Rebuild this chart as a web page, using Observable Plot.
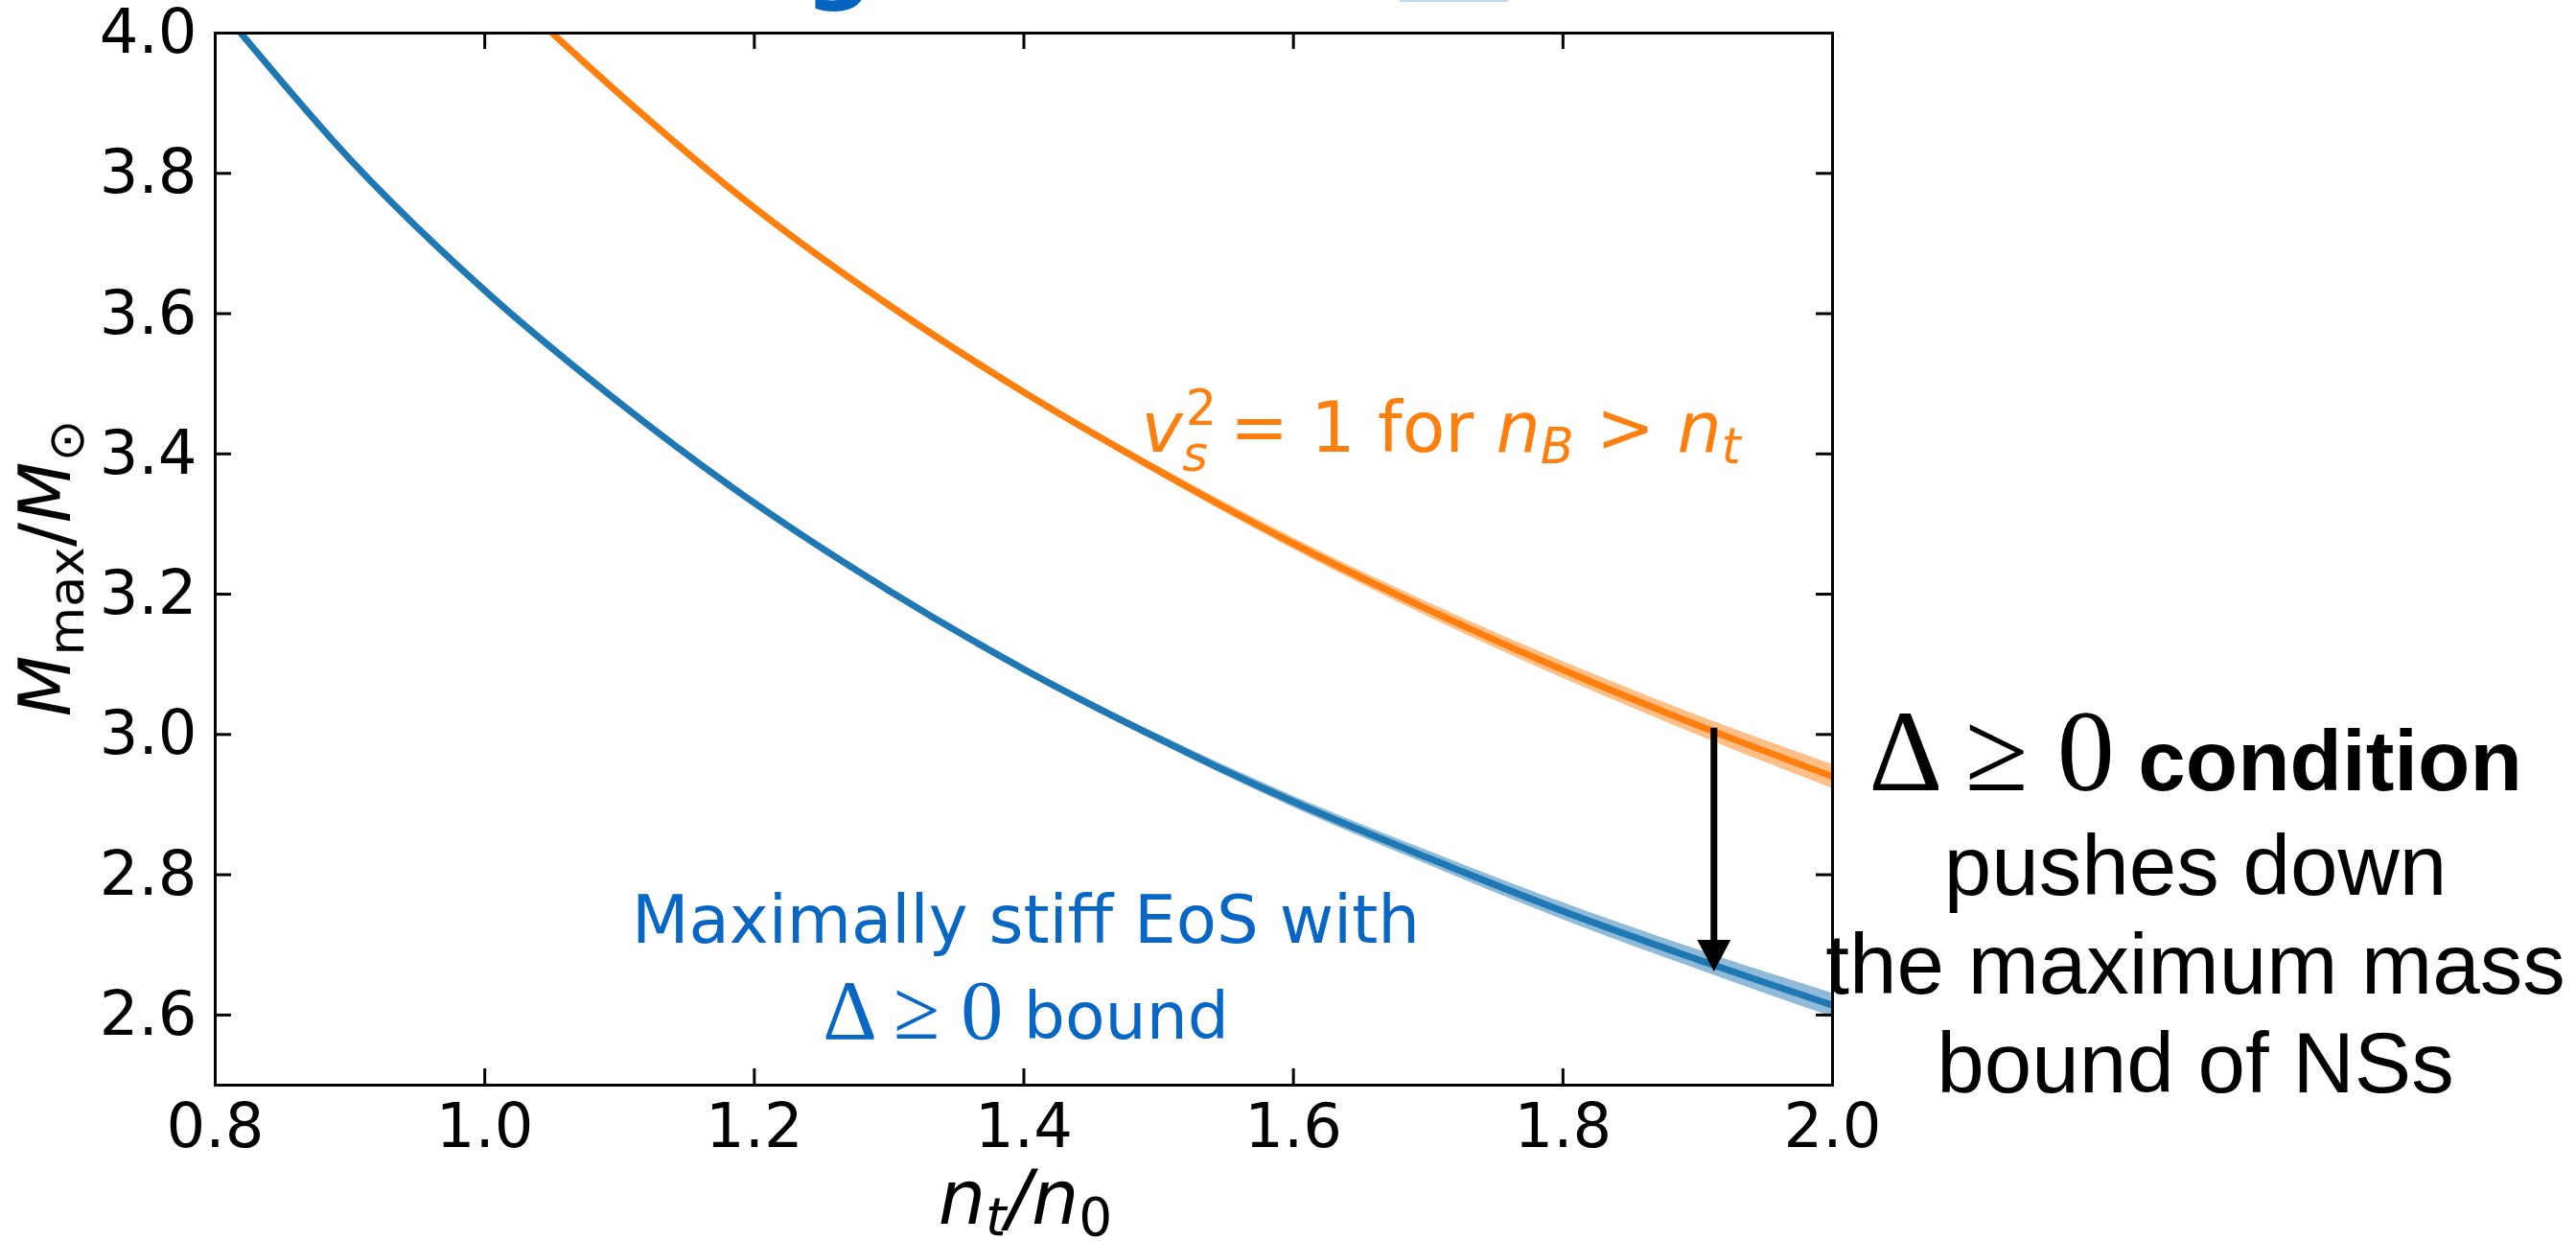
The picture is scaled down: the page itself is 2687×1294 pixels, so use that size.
<!DOCTYPE html>
<html><head><meta charset="utf-8">
<script src="https://cdn.jsdelivr.net/npm/d3@7"></script>
<script src="https://cdn.jsdelivr.net/npm/@observablehq/plot@0.6"></script>
<style>
html,body{margin:0;padding:0;background:#fff;}
#chart{position:relative;width:2687px;height:1294px;overflow:hidden;background:#fff;}
</style></head><body><div id="chart"></div>
<script>
// ---- data ----
const blueX = [0.819, 0.900, 1.000, 1.100, 1.200, 1.300, 1.400, 1.500, 1.600, 1.700, 1.800, 1.900, 2.000];
const blueY = [4.000, 3.820, 3.633, 3.473, 3.330, 3.205, 3.093, 2.994, 2.904, 2.824, 2.748, 2.679, 2.614];
const orangeX = [1.050, 1.100, 1.200, 1.300, 1.400, 1.500, 1.600, 1.700, 1.800, 1.900, 2.000];
const orangeY = [4.000, 3.913, 3.751, 3.612, 3.488, 3.376, 3.272, 3.178, 3.092, 3.013, 2.940];
const bandX    = [1.2,   1.3,   1.4,   1.5,   1.6,   1.7,   1.8,   1.9,   2.0];
const blueLo   = [3.328, 3.202, 3.089, 2.988, 2.896, 2.814, 2.736, 2.665, 2.597];
const blueHi   = [3.332, 3.208, 3.097, 3.000, 2.912, 2.834, 2.760, 2.693, 2.631];
const orangeLo = [3.749, 3.609, 3.484, 3.370, 3.264, 3.168, 3.080, 2.999, 2.923];
const orangeHi = [3.753, 3.615, 3.492, 3.382, 3.280, 3.188, 3.104, 3.027, 2.957];
const xTicks = [0.8, 1.0, 1.2, 1.4, 1.6, 1.8, 2.0];
const yTicks = [2.6, 2.8, 3.0, 3.2, 3.4, 3.6, 3.8, 4.0];
const arrowX = [1.912];
const arrowFrom = [3.009];
const arrowTo = [2.662];

const BLUE = "#1f77b4", ORANGE = "#ff7f0e", TEXTBLUE = "#0866c4";

const blueLine = blueX.map((x, i) => ({x, y: blueY[i]}));
const orangeLine = orangeX.map((x, i) => ({x, y: orangeY[i]}));
const blueBand = bandX.map((x, i) => ({x, lo: blueLo[i], hi: blueHi[i]}));
const orangeBand = bandX.map((x, i) => ({x, lo: orangeLo[i], hi: orangeHi[i]}));
const arrow = arrowX.map((x, i) => ({x, y1: arrowFrom[i], y2: arrowTo[i]}));

const W = 2687, H = 1294, ML = 224, MR = 776, MT = 34, MB = 163;
const FW = W - ML - MR, FH = H - MT - MB, TL = 17;

const downTriangle = {
  draw(ctx, size) {
    const r = Math.sqrt(size / Math.PI);
    const w = 1.25 * r, h = 2.36 * r;
    ctx.moveTo(0, 0); ctx.lineTo(-w, -h); ctx.lineTo(w, -h); ctx.closePath();
  }
};

const plot = Plot.plot({
  width: W, height: H,
  marginLeft: ML, marginRight: MR, marginTop: MT, marginBottom: MB,
  style: {fontFamily: "DejaVu Sans", fontSize: "64px", background: "#fff", color: "#000", overflow: "visible"},
  x: {domain: [0.8, 2.0]},
  y: {domain: [2.5, 4.0]},
  marks: [
    Plot.areaY(blueBand, {x: "x", y1: "lo", y2: "hi", fill: BLUE, fillOpacity: 0.5, curve: "monotone-x", clip: true}),
    Plot.areaY(orangeBand, {x: "x", y1: "lo", y2: "hi", fill: ORANGE, fillOpacity: 0.5, curve: "monotone-x", clip: true}),
    Plot.line(blueLine, {x: "x", y: "y", stroke: BLUE, strokeWidth: 7, curve: "monotone-x", clip: true}),
    Plot.line(orangeLine, {x: "x", y: "y", stroke: ORANGE, strokeWidth: 7, curve: "monotone-x", clip: true}),
    Plot.ruleX(arrow, {x: "x", y1: "y1", y2: "y2", stroke: "#000", strokeWidth: 7, insetBottom: 28}),
    Plot.dot(arrow, {x: "x", y: "y2", symbol: downTriangle, r: 14, fill: "#000", stroke: "none"}),
    Plot.tickX(xTicks, {insetTop: FH - TL, stroke: "#000", strokeWidth: 3}),
    Plot.tickX(xTicks, {insetBottom: FH - TL, stroke: "#000", strokeWidth: 3}),
    Plot.tickY(yTicks, {insetRight: FW - TL, stroke: "#000", strokeWidth: 3}),
    Plot.tickY(yTicks, {insetLeft: FW - TL, stroke: "#000", strokeWidth: 3}),
    Plot.axisX({ticks: xTicks, tickSize: 0, tickPadding: 19, tickFormat: d3.format(".1f"), label: null, fontSize: 64}),
    Plot.axisY({ticks: yTicks, tickSize: 0, tickPadding: 19, tickFormat: d3.format(".1f"), label: null, fontSize: 64}),
    Plot.frame({stroke: "#000", strokeWidth: 3})
  ]
});

document.getElementById("chart").appendChild(plot);

const xs = plot.scale("x"), ys = plot.scale("y");
const svg = d3.select(plot);

function rich(x, y, anchor, spans, transform) {
  const t = svg.append("text")
    .attr("x", x).attr("y", y)
    .attr("text-anchor", anchor)
    .style("white-space", "pre");
  if (transform) t.attr("transform", transform).attr("x", 0).attr("y", 0);
  for (const s of spans) {
    const ts = t.append("tspan").text(s.t)
      .attr("font-family", s.ff || "DejaVu Sans")
      .attr("font-size", s.fs)
      .attr("fill", s.fill || "#000");
    if (s.it) ts.attr("font-style", "italic");
    if (s.b) ts.attr("font-weight", "bold");
    if (s.dx) ts.attr("dx", s.dx);
    if (s.dy) ts.attr("dy", s.dy);
  }
  return t;
}

const SERIF = "Liberation Serif", ARIAL = "Liberation Sans";

// orange annotation
rich(xs.apply(1.4875), ys.apply(3.403), "start", [
  {t: "v", it: 1, fs: 73, fill: ORANGE},
  {t: "2", fs: 51, fill: ORANGE, dx: 3, dy: -28},
  {t: "s", it: 1, fs: 51, fill: ORANGE, dx: -36, dy: 48},
  {t: " = 1 for ", fs: 73, fill: ORANGE, dy: -20},
  {t: "n", it: 1, fs: 73, fill: ORANGE},
  {t: "B", it: 1, fs: 51, fill: ORANGE, dy: 12},
  {t: " > ", fs: 73, fill: ORANGE, dy: -12},
  {t: "n", it: 1, fs: 73, fill: ORANGE},
  {t: "t", it: 1, fs: 51, fill: ORANGE, dy: 12}
]);

// blue annotation
rich(xs.apply(1.4018), ys.apply(2.7027), "middle", [
  {t: "Maximally stiff EoS with", fs: 69, fill: TEXTBLUE}
]);
rich(xs.apply(1.4018), ys.apply(2.566), "middle", [
  {t: "Δ ≥ 0", ff: SERIF, fs: 88, fill: TEXTBLUE},
  {t: " bound", fs: 68, fill: TEXTBLUE}
]);

// right annotation
const rx = xs.apply(2.2696);
rich(rx, ys.apply(2.9197), "middle", [
  {t: "Δ ≥ 0", ff: SERIF, fs: 120},
  {t: " condition", ff: ARIAL, b: 1, fs: 89}
]);
rich(rx, ys.apply(2.7707), "middle", [{t: "pushes down", ff: ARIAL, fs: 89}]);
rich(rx, ys.apply(2.6298), "middle", [{t: "the maximum mass", ff: ARIAL, fs: 89}]);
rich(rx, ys.apply(2.4885), "middle", [{t: "bound of NSs", ff: ARIAL, fs: 89}]);

// axis labels
rich(0, 0, "middle", [
  {t: "M", it: 1, fs: 74},
  {t: "max", fs: 52, dy: 14},
  {t: "/", fs: 74, dy: -14},
  {t: "M", it: 1, fs: 74},
  {t: "⊙", fs: 52, dy: 14}
], `translate(${ML - 151},${(MT + H - MB) / 2 + 10}) rotate(-90)`);

rich(xs.apply(1.4) + 2, H - 18, "middle", [
  {t: "n", it: 1, fs: 78},
  {t: "t", it: 1, fs: 55, dy: 12},
  {t: "/", it: 1, fs: 78, dy: -12},
  {t: "n", it: 1, fs: 78},
  {t: "0", fs: 55, dy: 12}
]);

// cut-off slide title remnants at the top edge
svg.append("text").attr("x", 875).attr("y", -10).attr("text-anchor", "middle")
  .attr("font-family", "DejaVu Sans").attr("font-weight", "bold").attr("font-size", 100)
  .attr("fill", "#0563c1").text("g");
svg.append("rect").attr("x", 1460).attr("y", 0).attr("width", 113).attr("height", 2).attr("fill", "#bdd7ee");
</script></body></html>
